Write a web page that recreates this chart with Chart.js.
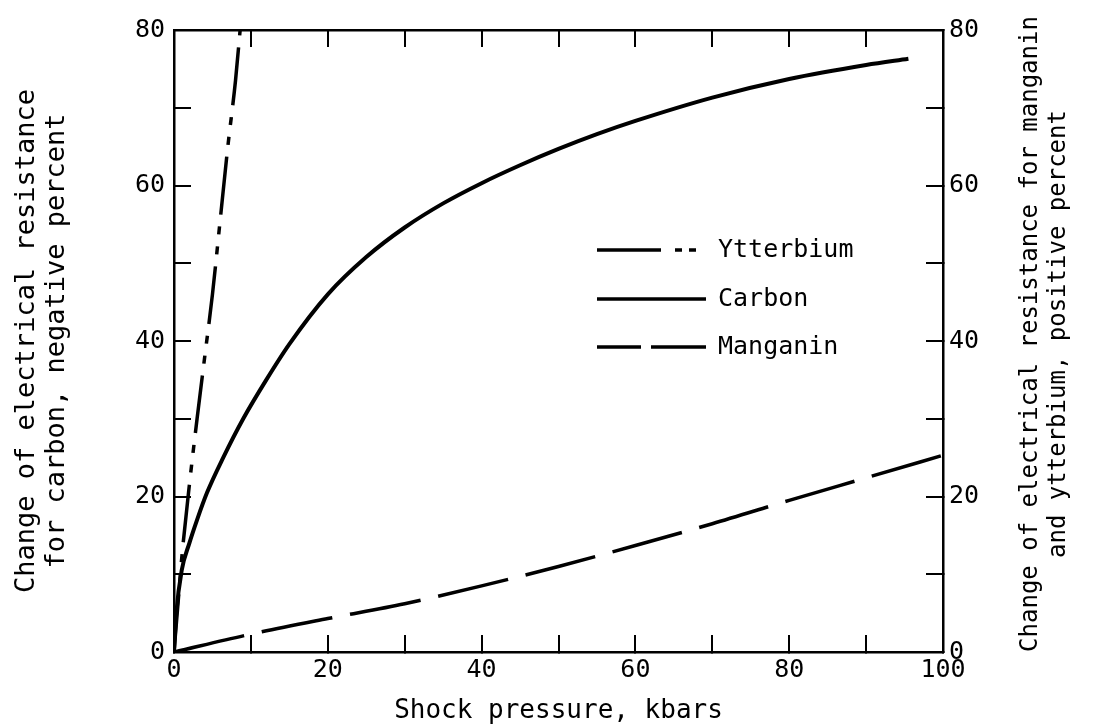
<!DOCTYPE html>
<html>
<head>
<meta charset="utf-8">
<script src="https://cdn.jsdelivr.net/npm/chart.js@4.4.0/dist/chart.umd.min.js"></script>
<style>
  html, body { margin: 0; padding: 0; background: #fff; }
  #wrap { width: 1096px; height: 726px; position: relative; }
</style>
</head>
<body>
<div id="wrap"><canvas id="myChart"></canvas></div>
<script>
var FONT = '"DejaVu Sans Mono", monospace';

// shock pressure (kbars) vs change of resistance (%)
var carbonP = [0, 0.3, 1, 2, 3, 4.3, 6.4, 9, 12, 15, 20, 25, 30, 35, 40, 45, 50, 55, 60, 70, 80, 90, 95.5];
var carbonR = [0, 5, 10.5, 14, 17, 20.5, 25, 30, 35, 39.6, 46, 50.8, 54.6, 57.7, 60.3, 62.6, 64.7, 66.6, 68.3, 71.3, 73.7, 75.5, 76.3];

var ytterbiumP = [0, 0.5, 1, 2, 3, 4, 5, 6, 7, 8, 8.6];
var ytterbiumR = [0, 6, 12, 21.5, 30, 38, 46, 55.5, 65, 73.5, 80];

var manganinP = [0, 10, 20, 30, 40, 50, 60, 70, 80, 90, 100];
var manganinR = [0, 2.3, 4.3, 6.2, 8.5, 11, 13.7, 16.5, 19.5, 22.4, 25.3];

var seriesNames = ['Ytterbium', 'Carbon', 'Manganin'];
var xLabels = [0, 20, 40, 60, 80, 100];
var yLabels = [0, 20, 40, 60, 80];

var xTitle = 'Shock pressure, kbars';
var leftTitle = ['Change of electrical resistance', 'for carbon, negative percent'];
var rightTitle = ['Change of electrical resistance for manganin', 'and ytterbium, positive percent'];

function pts(xs, ys) {
  return xs.map(function (x, i) { return { x: x, y: ys[i] }; });
}

var dashes = {
  Ytterbium: [58, 12, 8, 12, 8, 12],
  Carbon: [],
  Manganin: [72, 18]
};

// legend drawn by hand so the line styles look like the figure
var legendPlugin = {
  id: 'handLegend',
  afterDraw: function (chart) {
    var ctx = chart.ctx;
    var rows = [
      { name: seriesNames[0], dash: [64, 14, 7, 7, 7, 300], y: 250 },
      { name: seriesNames[1], dash: [], y: 299 },
      { name: seriesNames[2], dash: [44, 10, 300], y: 347 }
    ];
    ctx.save();
    ctx.strokeStyle = '#000';
    ctx.lineWidth = 3.5;
    ctx.lineCap = 'butt';
    ctx.fillStyle = '#000';
    ctx.font = '25px ' + FONT;
    ctx.textBaseline = 'middle';
    ctx.textAlign = 'left';
    rows.forEach(function (r) {
      ctx.setLineDash(r.dash);
      ctx.beginPath();
      ctx.moveTo(597, r.y);
      ctx.lineTo(706, r.y);
      ctx.stroke();
      ctx.fillText(r.name, 718, r.y);
    });
    ctx.restore();
  }
};

// right axis title reads bottom-to-top like the left one
var rightTitlePlugin = {
  id: 'rightTitle',
  afterDraw: function (chart) {
    var ctx = chart.ctx;
    ctx.save();
    ctx.fillStyle = '#000';
    ctx.font = '24px ' + FONT;
    ctx.textAlign = 'center';
    ctx.textBaseline = 'middle';
    [1031, 1059].forEach(function (x, i) {
      ctx.save();
      ctx.translate(x, 334);
      ctx.rotate(-Math.PI / 2);
      ctx.fillText(rightTitle[i], 0, 0);
      ctx.restore();
    });
    ctx.restore();
  }
};

var gridOpts = {
  drawOnChartArea: false,
  color: '#000',
  lineWidth: 2,
  tickLength: -17,
  tickWidth: 2,
  tickColor: '#000'
};
var borderOpts = { display: true, color: '#000', width: 2.5 };

function noPad(s) {
  s.paddingTop = 0;
  s.paddingBottom = 0;
  s.paddingLeft = 0;
  s.paddingRight = 0;
}

var config = {
  type: 'line',
  data: {
    datasets: [
      {
        label: seriesNames[0],
        data: pts(ytterbiumP, ytterbiumR),
        yAxisID: 'y2',
        borderColor: '#000',
        borderWidth: 3.5,
        borderDash: dashes.Ytterbium,
        pointRadius: 0,
        fill: false,
        cubicInterpolationMode: 'monotone'
      },
      {
        label: seriesNames[1],
        data: pts(carbonP, carbonR),
        yAxisID: 'y',
        borderColor: '#000',
        borderWidth: 4,
        borderDash: dashes.Carbon,
        pointRadius: 0,
        fill: false,
        cubicInterpolationMode: 'monotone'
      },
      {
        label: seriesNames[2],
        data: pts(manganinP, manganinR),
        yAxisID: 'y2',
        borderColor: '#000',
        borderWidth: 3.5,
        borderDash: dashes.Manganin,
        pointRadius: 0,
        fill: false,
        cubicInterpolationMode: 'monotone'
      }
    ]
  },
  options: {
    responsive: true,
    maintainAspectRatio: false,
    animation: false,
    layout: { padding: 0 },
    plugins: {
      legend: { display: false },
      tooltip: { enabled: false }
    },
    scales: {
      x: {
        type: 'linear',
        position: 'bottom',
        min: 0,
        max: 100,
        grid: gridOpts,
        border: borderOpts,
        ticks: {
          stepSize: 10,
          autoSkip: false,
          maxRotation: 0,
          padding: 20,
          color: '#000',
          font: { family: FONT, size: 25 },
          callback: function (v) { return xLabels.indexOf(v) >= 0 ? String(v) : ''; }
        },
        title: {
          display: true,
          text: xTitle,
          color: '#000',
          font: { family: FONT, size: 26, lineHeight: 1.1 },
          padding: { top: 0, bottom: 0 }
        },
        afterFit: function (s) { s.height = 74; noPad(s); }
      },
      x2: {
        type: 'linear',
        position: 'top',
        min: 0,
        max: 100,
        grid: gridOpts,
        border: borderOpts,
        ticks: { stepSize: 10, autoSkip: false, display: false },
        afterFit: function (s) { s.height = 30; noPad(s); }
      },
      y: {
        type: 'linear',
        position: 'left',
        min: 0,
        max: 80,
        grid: gridOpts,
        border: borderOpts,
        ticks: {
          stepSize: 10,
          autoSkip: false,
          padding: 26,
          color: '#000',
          font: { family: FONT, size: 25 },
          callback: function (v) { return yLabels.indexOf(v) >= 0 ? String(v) : ''; }
        },
        title: {
          display: true,
          text: leftTitle,
          color: '#000',
          font: { family: FONT, size: 27, lineHeight: 1.1 },
          padding: { top: 12, bottom: 0 }
        },
        afterFit: function (s) { s.width = 174; noPad(s); }
      },
      y2: {
        type: 'linear',
        position: 'right',
        min: 0,
        max: 80,
        grid: gridOpts,
        border: borderOpts,
        ticks: {
          stepSize: 10,
          autoSkip: false,
          padding: 23,
          color: '#000',
          font: { family: FONT, size: 25 },
          callback: function (v) { return yLabels.indexOf(v) >= 0 ? String(v) : ''; }
        },
        afterFit: function (s) { s.width = 153; noPad(s); }
      }
    }
  },
  plugins: [legendPlugin, rightTitlePlugin]
};

var ctx = document.getElementById('myChart').getContext('2d');
var chart = new Chart(ctx, config);
</script>
</body>
</html>
